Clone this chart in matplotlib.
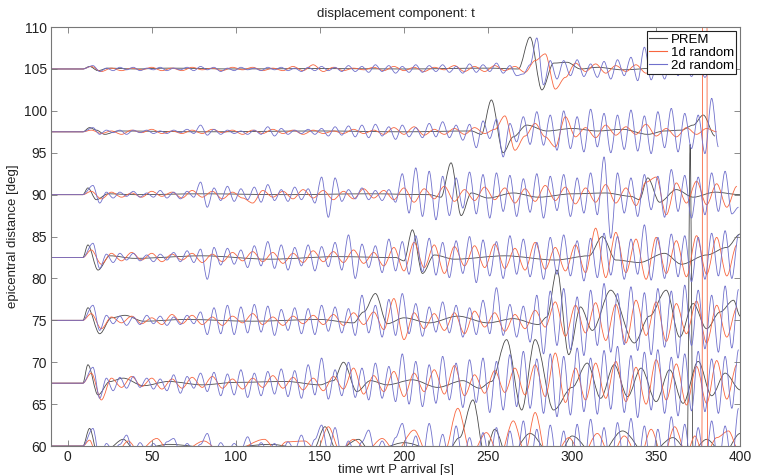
import numpy as np
import matplotlib
matplotlib.use("Agg")
import matplotlib.pyplot as plt
from matplotlib.path import Path
from matplotlib.patches import PathPatch
from matplotlib.lines import Line2D

plt.rcParams["font.family"] = ["Liberation Sans", "DejaVu Sans"]

# ---------------- data (offsets in deg from each trace's distance) ----------------
distances = [105, 97.5, 90, 82.5, 75, 67.5, 60]
series_names = ["PREM", "1d random", "2d random"]
x_ticks = [0, 50, 100, 150, 200, 250, 300, 350, 400]
y_ticks = [60, 65, 70, 75, 80, 85, 90, 95, 100, 105, 110]

# 2d random: successive extrema, 4 s apart starting at 15 s
rand2d_105 = [0.4,-0.3,0.1,-0.2,0.2,-0.1,0.2,-0.2,0.1,-0.1,
              0.2,-0.2,0.1,-0.1,0.2,-0.2,0.3,-0.1,0.2,-0.3,
              0.1,-0.2,0.2,-0.1,0.1,-0.2,0.2,-0.1,0.2,-0.2,
              0.1,-0.3,0.2,-0.2,0.3,-0.2,0.2,-0.3,0.4,-0.3,
              0.3,-0.4,0.5,-0.3,0.4,-0.5,0.3,-0.4,0.5,-0.4,
              0.4,-0.3,0.5,-0.4,0.3,-0.5,0.6,-0.4,0.5,-0.3,
              0.7,-0.5,0.4,-0.8,-0.6,0.5,3.7,-1.9,1.0,-1.2,
              1.0,-0.8,1.1,-0.9,0.6,-1.0,0.9,-1.2,1.1,-0.8,
              1.4,-1.4,2.6,-1.3,1.2,-1.2,1.5,-0.8,1.0,-0.9,
              0.8,-1.0,0.6]
rand2d_975 = [0.5,-0.3,0.2,-0.1,0.2,-0.3,0.2,-0.1,0.2,-0.2,
              0.1,-0.2,0.2,-0.1,0.3,-0.2,0.8,-0.4,0.3,-0.3,
              0.2,-0.2,0.1,-0.3,0.2,-0.3,0.6,-0.5,0.4,-0.3,
              0.2,-0.2,0.3,-0.3,0.4,-0.5,0.6,-0.4,0.7,-0.6,
              0.8,-0.7,0.9,-0.5,0.6,-0.9,0.8,-0.6,0.5,-0.7,
              1.0,-0.6,1.2,-0.7,0.8,-1.0,0.9,-1.9,1.3,-0.8,
              1.5,-3.0,1.0,-1.2,1.8,-1.5,2.4,-1.6,2.0,-2.2,
              2.5,-2.0,1.8,-2.4,2.7,-1.8,2.2,-2.5,2.0,-2.1,
              2.6,-2.3,1.9,-2.6,2.4,-1.9,2.8,-2.4,2.2,-2.0,
              2.0,-2.6,4.0,-1.8]
rand2d_90 = [1.1,-1.0,0.3,-0.4,0.3,-0.2,0.4,-0.3,0.2,-0.3,
             0.5,-0.4,0.3,-0.5,0.4,-0.3,1.5,-1.5,0.8,-0.7,
             1.0,-0.8,0.7,-0.6,0.9,-0.9,1.2,-0.7,0.6,-0.8,
             0.9,-0.6,0.7,-1.0,2.1,-2.7,2.0,-0.8,0.6,-0.5,
             0.8,-0.6,0.5,-0.7,0.6,-0.9,2.5,-2.2,3.2,-2.6,
             2.8,-3.0,2.2,-2.5,2.0,-1.6,2.7,-2.3,2.4,-2.8,
             2.6,-2.0,2.3,-2.6,1.9,-2.1,2.5,-2.8,2.2,-1.9,
             2.4,-2.6,2.0,-2.2,2.6,-2.4,4.5,-5.2,2.6,-2.2,
             2.0,-2.6,2.4,-1.8,2.2,-2.7,3.0,-2.0,2.3,-2.8,
             2.1,-2.4,2.6,-2.0,2.8,-2.3,-1.5]
rand2d_825 = [1.7,-1.3,0.4,-0.6,0.5,-0.3,0.5,-0.4,0.3,-0.5,
              0.4,-0.3,0.6,-0.5,0.8,-0.6,1.0,-2.6,1.2,-0.9,
              1.1,-0.8,0.9,-1.2,1.4,-1.0,1.9,-1.3,1.5,-1.5,
              1.2,-1.0,1.5,-1.6,1.3,-1.1,1.8,-1.5,2.7,-2.5,
              1.6,-1.2,1.4,-1.8,2.2,-1.6,1.9,-2.0,2.6,-1.7,
              2.3,-2.1,1.8,-2.4,2.0,-1.9,2.5,-3.0,2.1,-2.2,
              1.9,-2.5,2.6,-2.0,2.2,-2.3,1.8,-2.6,2.4,-2.0,
              2.7,-2.2,2.0,-2.8,2.3,-2.4,2.9,-2.1,2.5,-2.6,
              2.2,-2.0,3.9,-2.7,2.4,-2.5,2.8,-2.3,2.6,-2.9,
              2.4,-2.6,2.9,-2.2,3.2,-2.5,2.7]
rand2d_75 = [1.8,-1.2,0.6,-0.4,0.5,-0.6,0.4,-0.5,0.6,-0.4,
             0.5,-0.6,0.4,-0.5,0.6,-0.4,1.0,-1.7,1.5,-1.6,
             1.8,-1.7,1.6,-1.5,1.9,-1.4,1.7,-1.8,1.3,-1.2,
             1.5,-1.6,1.4,-1.7,1.8,-1.3,1.6,-1.5,1.4,-1.8,
             3.0,-1.5,1.8,-2.0,2.5,-1.8,3.2,-1.6,2.0,-1.9,
             1.6,-1.4,2.2,-1.5,1.8,-2.0,1.5,-1.7,2.4,-1.6,
             3.9,-1.8,1.9,-2.0,1.7,-2.6,3.0,-4.0,3.5,-3.0,
             3.8,-3.5,2.8,-4.2,3.6,-3.0,4.4,-3.8,3.2,-2.9,
             4.0,-3.6,3.3,-4.1,3.8,-3.2,3.5,-4.5,4.2,-3.0,
             3.6,-3.4,3.0,-3.8,4.1,-3.3,3.7]
rand2d_675 = [1.9,-1.8,0.6,-0.9,0.7,-0.6,0.8,-0.5,0.6,-0.7,
              0.5,-0.9,1.0,-1.2,0.8,-0.6,1.2,-1.0,1.3,-1.5,
              1.1,-1.4,1.6,-1.7,1.2,-1.5,1.4,-1.3,1.7,-1.6,
              1.5,-1.8,2.2,-1.4,3.0,-1.9,1.6,-1.5,2.5,-1.7,
              1.8,-2.0,2.4,-1.8,2.0,-2.2,3.5,-2.5,2.6,-2.8,
              2.2,-2.4,3.2,-2.0,2.4,-2.9,2.8,-2.3,3.0,-3.5,
              2.6,-3.2,3.4,-2.8,3.8,-3.0,2.9,-3.6,3.5,-4.0,
              3.2,-3.8,4.2,-3.4,3.0,-3.7,3.9,-3.1,4.4,-3.5,
              3.3,-4.1,3.7,-3.2,4.0,-3.6,3.1,-3.9,3.5,-3.3,
              3.8,-3.4,2.9,-3.6,3.2,-3.0,4.0]
rand2d_60 = [2.1,-1.5,0.3,-0.6,0.2,1.3,-0.8,0.4,-0.6,0.3,
             -0.7,0.5,0.9,-0.8,0.3,-0.6,0.2,1.5,-0.9,0.4,
             -0.7,0.3,-0.5,1.1,-0.8,0.4,-0.6,0.3,-0.9,0.5,
             -0.5,1.3,-1.0,0.8,2.5,-0.8,2.2,-1.2,0.6,-1.0,
             0.5,1.9,-1.1,0.6,-0.9,1.0,2.7,-1.2,1.2,-1.5,
             2.7,-1.6,1.4,-2.0,2.4,-1.8,1.0,-2.2,1.6,-1.8,
             2.2,-2.5,1.8,-2.0,3.0,-2.4,2.0,-3.0,2.5,-2.2,
             1.8,-3.5,2.6,-2.8,3.2,-2.6,2.2,-3.0,2.8,-2.4,
             3.3,-2.6,2.4,-3.1,2.0,-2.7,3.5,-2.4,2.6,-3.0,
             2.2,-2.8,3.0,-2.5,2.4,-2.2,4.5]

# 1d random: successive extrema, 6 s apart starting at 14 s
rand1d_105 = [0.3,-0.3,0.1,-0.2,0.1,-0.1,0.2,-0.2,0.1,-0.2,
              0.2,-0.1,0.1,-0.2,0.2,-0.1,0.2,-0.2,0.1,-0.2,
              0.3,-0.2,0.5,-0.3,0.2,-0.2,0.1,-0.1,0.2,-0.2,
              0.3,-0.2,0.2,-0.3,0.2,-0.1,0.4,-0.3,0.3,-0.3,
              0.4,-0.2,0.3,-0.4,1.0,1.8,-2.4,-1.0,0.7,-0.3,
              0.6,-0.5,0.4,-0.3,0.5,-0.5,0.3,-0.4,0.5,-0.3,0.4,-0.2]
rand1d_975 = [0.2,-0.2,0.1,-0.3,0.2,-0.1,0.3,-0.2,0.1,-0.2,
              0.2,-0.2,0.3,-0.1,0.2,-0.3,0.2,-0.2,0.3,-0.2,
              0.2,-0.3,0.2,-0.2,0.1,-0.2,0.3,-0.2,0.2,-0.3,
              0.5,-0.3,0.6,-0.4,0.3,-0.3,0.4,-0.3,0.5,-0.2,
              0.3,1.9,-2.2,-0.5,1.0,-0.6,-1.8,1.8,-0.6,0.5,
              -0.7,0.8,-0.4,0.6,-0.3,0.9,-0.5,0.4,-0.6,0.5,-0.3,0.4,0.0]
rand1d_90 = [0.4,-0.5,0.3,-0.3,0.2,-0.3,0.4,-0.2,0.3,-0.4,
             0.5,-0.3,0.4,-0.5,0.3,-0.4,-1.0,0.5,-0.3,0.4,
             -0.5,0.6,-0.4,0.5,-0.6,0.4,-0.5,0.7,-0.4,0.5,
             -0.6,0.8,-0.9,0.7,-0.5,1.0,-0.8,0.6,-0.7,0.9,
             -0.6,0.8,-1.0,0.7,-0.8,1.1,-0.7,0.9,-1.1,0.8,
             -0.9,1.2,-1.0,0.8,-1.3,1.5,2.1,-2.4,1.4,-1.0,
             1.6,-1.2,1.3,-1.5,1.0]
rand1d_825 = [0.9,-0.8,0.5,-0.4,0.6,-0.3,0.5,-0.5,0.4,-0.3,
              0.5,-0.6,0.4,-0.5,0.6,-0.4,0.7,-0.5,0.6,-0.7,
              0.5,-0.6,0.8,-0.5,0.7,-0.6,0.9,-0.7,0.6,-1.0,
              1.2,-1.6,1.8,-1.2,1.5,-1.9,1.3,-1.0,1.4,-1.2,
              1.6,-1.3,1.1,-1.5,1.8,-1.4,1.2,-1.6,1.5,-1.8,
              3.5,-2.4,3.0,-1.8,2.2,-2.6,2.4,-1.9,2.0,-2.3,
              2.6,-2.0,2.4,-2.2,1.5]
rand1d_75 = [0.8,-1.0,0.4,-0.3,0.5,-0.4,0.3,-0.5,0.7,-0.4,
             0.6,-0.5,0.4,-0.6,0.5,-0.3,0.8,-0.5,0.4,-0.6,
             0.5,-0.4,0.6,-0.5,0.7,-0.6,0.9,-0.5,1.0,-1.1,
             2.6,-2.3,0.9,-1.0,0.8,-1.2,0.9,-1.6,1.1,-0.8,
             0.9,-1.3,0.7,-1.0,1.2,-0.8,2.2,-1.9,1.8,-1.5,
             2.1,-2.4,1.9,-2.7,2.4,-1.8,2.2,-2.5,2.0,-1.6,
             2.3,-2.7,1.8,-2.0,1.5]
rand1d_675 = [1.2,-2.0,0.6,-0.5,0.8,-0.4,0.6,-0.7,0.5,-0.6,
              0.7,-0.5,0.8,-0.6,0.5,-0.7,0.6,-0.5,0.9,-0.6,
              0.7,-0.8,0.6,-0.9,0.8,-0.7,1.8,-1.3,0.9,-1.0,
              1.4,-1.6,1.2,-1.0,1.6,-1.3,2.1,-1.5,1.0,-1.2,
              1.5,-1.1,1.8,-1.4,2.2,-1.6,3.6,-2.3,1.8,-2.0,
              2.4,-1.8,2.6,-2.2,1.9,-2.5,2.8,-2.0,2.3,-2.6,
              2.0,-2.4,2.7,-1.9,2.2]
# 60 deg trace of the 1d model (explicit times, includes the off-scale spike)
rand1d_60_t = [13,17,22,30,36,42,53,60,70,81,90,100,117,124,130,141,148,155,162,170,
               178,187,195,206,214,224,232,240,249,257,265,272,278,285,291,298,306,315,323,331,
               340,347,354,361,368,373,377.2,378.9,380.6,386,393,399]
rand1d_60 = [0.7,-1.0,-0.3,-0.5,0.6,-0.6,0.9,-0.6,-0.4,0.6,-0.5,-0.4,0.8,-0.5,0.5,0.6,-0.5,2.3,-0.6,0.8,
             -0.5,0.9,-0.7,1.9,-0.9,-0.8,4.5,-1.0,1.6,-1.2,3.0,-0.8,4.0,-1.5,-0.6,1.0,-1.2,1.5,-1.3,1.2,
             -1.6,2.0,-1.5,2.3,-1.0,1.2,-0.5,400,-0.5,1.0,1.8,-0.5]

# PREM: explicit extrema times and offsets
prem_105_t = [13,18,24,40,60,100,150,200,250,268,275,282,289,297,305,315,330,350,370,385]
prem_105 = [0.3,-0.2,0.1,0,0.1,0,0.05,0,0.1,0,3.8,-2.5,0.7,0.8,0.0,0.2,-0.1,0.1,0,0]
prem_975_t = [13,17,22,30,80,150,200,240,246,252,259,265,273,285,300,315,330,345,355,365,372,378,385]
prem_975 = [0.5,0.2,-0.3,0.1,0,0.1,0,0.1,-0.3,3.8,-2.5,-0.6,0.8,0.1,0.4,0.1,0.3,-0.3,0.1,0.2,0.8,2.0,-0.5]
prem_90_t = [12,17,24,40,80,130,180,215,222,228,234,240,250,265,280,300,320,335,340,345,352,362,372,385,400]
prem_90 = [0.8,-0.6,0.1,0,0.1,0,0.1,0,-0.3,3.8,-2.5,0.2,-0.4,0.2,-0.3,0.1,0.2,-0.2,-0.6,2.0,-0.9,0.6,-0.3,0.3,0]
prem_825_t = [12,18,25,40,80,120,160,195,200,205,211,218,230,260,290,310,318,326,340,355,365,380,392,400]
prem_825 = [1.5,-1.5,0.2,-0.1,0.2,-0.2,0.1,0,-0.4,3.3,-1.9,0.3,-0.2,0.2,-0.3,0.2,2.5,-0.3,-0.6,0.5,-0.8,0.3,1.2,2.8]
prem_75_t = [12,19,26,34,45,70,110,150,170,176,183,190,200,215,232,250,265,280,285,291,298,305,312,323,337,346,356,364,372,380,388,396,400]
prem_75 = [1.5,-1.6,0.3,0.6,-0.1,0.1,-0.1,0.1,-0.3,1.0,3.2,-0.4,0.3,-0.3,0.5,-0.3,0.2,-0.5,0.4,6.0,-4.1,1.6,-1.2,3.6,-2.7,0.5,3.6,-2.0,2.0,-1.0,1.0,2.4,0.5]
prem_675_t = [12,18,25,33,45,60,80,100,130,150,158,164,172,180,190,205,220,235,245,252,261,270,278,289,300,309,317,325,333,341,350,358,366,375,383,391,400]
prem_675 = [2.2,-1.4,0.2,0.6,-0.3,0.2,-0.2,0.1,0.2,-0.2,0.3,2.5,-1.0,0.3,-0.2,0.4,-0.5,0.3,-0.6,0.2,5.2,-3.2,5.2,-3.2,-0.5,2.4,-1.8,2.2,-1.6,1.8,-2.2,1.6,-2.4,2.6,-1.5,1.2,-0.8]
prem_60_t = [13,18,24,33,40,60,90,120,146,153,160,173,180,200,225,233,241,248,254,262,275,290,300,315,330,345,360,368.5,370.2,371.9,380,390,400]
prem_60 = [2.1,-1.2,-0.3,0.8,-0.5,0.2,-0.3,0.2,-0.5,2.3,-0.6,0.8,-0.7,0.4,-1.0,1.0,5.5,-1.0,2.0,-1.5,1.5,-2.0,1.2,-1.5,1.8,-1.2,1.0,-0.5,36,-0.5,0.8,-1.0,1.5]

# ---------------- assemble ----------------
def grid(start, step, vals):
    return list(start + step * np.arange(len(vals)))

prem_t = [prem_105_t, prem_975_t, prem_90_t, prem_825_t, prem_75_t, prem_675_t, prem_60_t]
prem_v = [prem_105, prem_975, prem_90, prem_825, prem_75, prem_675, prem_60]
r1_v = [rand1d_105, rand1d_975, rand1d_90, rand1d_825, rand1d_75, rand1d_675, rand1d_60]
r1_t = [grid(14, 6, v) for v in r1_v[:-1]] + [rand1d_60_t]
r2_v = [rand2d_105, rand2d_975, rand2d_90, rand2d_825, rand2d_75, rand2d_675, rand2d_60]
r2_t = [grid(15, 4, v) for v in r2_v]

colors = ["#4a4a4a", "#f8663f", "#7070cc"]

def trace_path(t, v, base):
    xs = [-10, 9] + list(t)
    ys = [base, base] + [base + a for a in v]
    verts = [(xs[0], ys[0])]
    codes = [Path.MOVETO]
    for i in range(len(xs) - 1):
        dx = xs[i + 1] - xs[i]
        verts += [(xs[i] + dx / 3, ys[i]), (xs[i + 1] - dx / 3, ys[i + 1]), (xs[i + 1], ys[i + 1])]
        codes += [Path.CURVE4] * 3
    return Path(verts, codes)

fig = plt.figure(figsize=(7.6, 4.75), dpi=100)
ax = fig.add_axes([0.067, 0.061, 0.907, 0.882])

for ts, vs, col in [(prem_t, prem_v, colors[0]), (r1_t, r1_v, colors[1]), (r2_t, r2_v, colors[2])]:
    for t, v, d in zip(ts, vs, distances):
        ax.add_patch(PathPatch(trace_path(t, v, d), fill=False, edgecolor=col, lw=0.6))

ax.set_xlim(-10, 400)
ax.set_ylim(60, 110)
ax.set_xticks(x_ticks)
ax.set_yticks(y_ticks)
ax.tick_params(direction="in", top=True, right=True, length=4, width=0.6, pad=3,
               color="#777777", labelcolor="#222222", labelsize=10)
for s in ax.spines.values():
    s.set_color("#777777")
    s.set_linewidth(0.8)

ax.set_title("displacement component: t", fontsize=9.5, color="#222222", pad=7)
ax.set_xlabel("time wrt P arrival [s]", fontsize=9.5, color="#222222", labelpad=0)
ax.set_ylabel("epicentral distance [deg]", fontsize=9.5, color="#222222", labelpad=3)

handles = [Line2D([], [], color=c, lw=0.8) for c in colors]
leg = ax.legend(handles, series_names, loc="upper right", fontsize=9.5, frameon=True,
                fancybox=False, framealpha=1, edgecolor="#222222", handlelength=1.3,
                handletextpad=0.3, borderpad=0.2, labelspacing=0.05, borderaxespad=0.3)
leg.get_frame().set_linewidth(0.8)

fig.savefig("out.png", dpi=100)
